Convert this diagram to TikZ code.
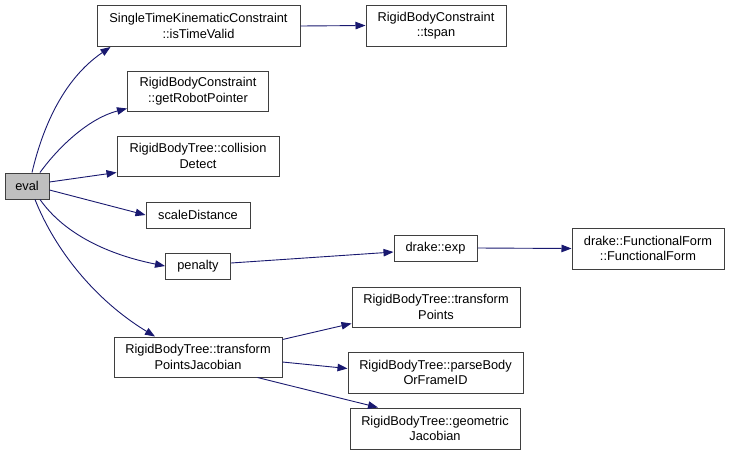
\documentclass[tikz,border=0pt]{standalone}
\usepackage{fontspec}
\setmainfont{Liberation Sans}
\usetikzlibrary{arrows.meta}
\definecolor{edgeblue}{HTML}{191970}
\definecolor{boxline}{HTML}{3F3F3F}
\definecolor{curfill}{HTML}{BFBFBF}
\tikzset{
  fn/.style={draw=boxline, line width=1pt, fill=white, inner sep=0pt, align=center,
    font=\fontsize{12.8}{15.5}\selectfont},
  cur/.style={fn, fill=curfill},
  call/.style={draw=edgeblue, line width=0.9pt, -{Triangle[length=10pt,width=7.5pt]}},
}
\begin{document}
\begin{tikzpicture}[x=1pt,y=-1pt]
\useasboundingbox (0,0) rectangle (729,464);
\fill[white] (0,0) rectangle (729,464);

% functions
\node[cur, minimum width=44pt, minimum height=26pt] (eval) at (27,186) {eval};
\node[fn, minimum width=203pt, minimum height=41pt] (valid) at (198.5,26) {SingleTimeKinematicConstraint\\::isTimeValid};
\node[fn, minimum width=140pt, minimum height=41pt] (tspan) at (436,25.5) {RigidBodyConstraint\\::tspan};
\node[fn, minimum width=141pt, minimum height=40pt] (robot) at (198,91) {RigidBodyConstraint\\::getRobotPointer};
\node[fn, minimum width=162pt, minimum height=40pt] (coll) at (198,156) {RigidBodyTree::collision\\Detect};
\node[fn, minimum width=104pt, minimum height=26pt] (scale) at (198,215) {scaleDistance};
\node[fn, minimum width=65pt, minimum height=26pt] (pen) at (198,266) {penalty};
\node[fn, minimum width=168pt, minimum height=40pt] (tpj) at (198,357) {RigidBodyTree::transform\\PointsJacobian};
\node[fn, minimum width=83pt, minimum height=26pt] (exp) at (435.5,248) {drake::exp};
\node[fn, minimum width=152pt, minimum height=41pt] (ff) at (648,248.5) {drake::FunctionalForm\\::FunctionalForm};
\node[fn, minimum width=168pt, minimum height=40pt] (tp) at (436,307) {RigidBodyTree::transform\\Points};
\node[fn, minimum width=175pt, minimum height=41pt] (parse) at (435.5,372.5) {RigidBodyTree::parseBody\\OrFrameID};
\node[fn, minimum width=170pt, minimum height=41pt] (geom) at (435,428.5) {RigidBodyTree::geometric\\Jacobian};

% calls
\draw[call] ([xshift=5pt]eval.north) .. controls (42,130) and (62,80) .. ([xshift=-88pt]valid.south);
\draw[call] ([xshift=13pt]eval.north) .. controls (60,145) and (90,118) .. ([yshift=3pt]robot.south west);
\draw[call] ([yshift=4pt]eval.east) -- ([yshift=4pt]coll.south west);
\draw[call] ([yshift=-4pt]eval.east) -- (scale.west);
\draw[call] ([xshift=13pt]eval.south) .. controls (65,235) and (110,255) .. (pen.west);
\draw[call] ([xshift=8pt]eval.south) .. controls (55,250) and (95,300) .. ([xshift=-43pt]tpj.north);
\draw[call] (valid.east) -- (tspan.west);
\draw[call] ([yshift=3pt]pen.east) -- ([yshift=-4pt]exp.west);
\draw[call] (exp.east) -- (ff.west);
\draw[call] ([yshift=-3pt]tpj.north east) -- ([yshift=4pt]tp.south west);
\draw[call] ([yshift=-5pt]tpj.east) -- ([yshift=4pt]parse.west);
\draw[call] ([xshift=-25pt]tpj.south east) -- ([xshift=-57pt]geom.north);
\end{tikzpicture}
\end{document}
